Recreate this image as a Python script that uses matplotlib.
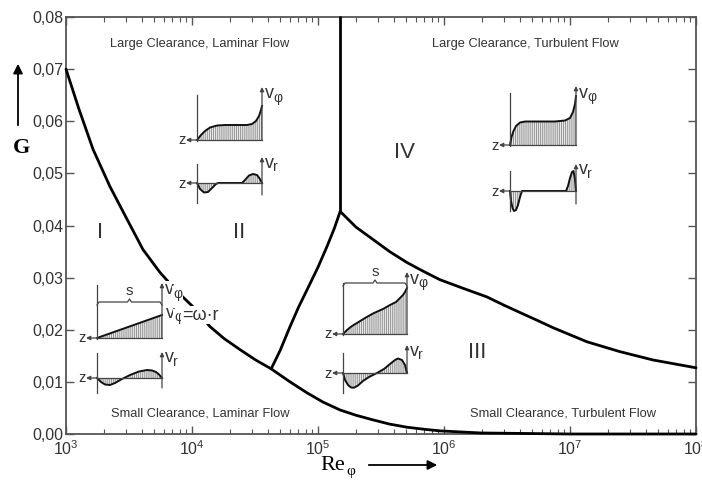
import matplotlib
matplotlib.use("Agg")
import matplotlib.pyplot as plt
from matplotlib.ticker import LogLocator, NullFormatter

plt.rcParams['font.family'] = ['Liberation Sans', 'DejaVu Sans']
plt.rcParams['mathtext.fontset'] = 'custom'
plt.rcParams['mathtext.rm'] = 'Liberation Sans'
plt.rcParams['mathtext.it'] = 'Liberation Sans:italic'
plt.rcParams['hatch.linewidth'] = 0.6

# ---------------- data ----------------
# boundary I/III (laminar -> small clearance) continuing along the small-clearance border
re_c1 = [1000, 1260, 1640, 2230, 3050, 4080, 5570, 7500, 10200, 13900, 18000, 24000,
         32000, 42500, 60000, 81800, 110000, 150000, 200000, 274000, 370000, 508000,
         700000, 929000, 1950000, 10000000, 100000000]
g_c1 = [0.0700, 0.0625, 0.0546, 0.0475, 0.0412, 0.0354, 0.0310, 0.0275, 0.0244, 0.0206,
        0.0183, 0.0162, 0.0142, 0.0125, 0.0100, 0.0079, 0.0061, 0.0046, 0.0036, 0.0027,
        0.0019, 0.0013, 0.0009, 0.0006, 0.0002, 0.0000, 0.0000]
# boundary II/III
re_c2 = [42500, 50000, 60000, 70000, 82000, 100000, 118000, 135000, 150000]
g_c2 = [0.0125, 0.0160, 0.0206, 0.0243, 0.0277, 0.0320, 0.0360, 0.0395, 0.0427]
# boundary III/IV
re_c3 = [150000, 200000, 274000, 370000, 508000, 700000, 929000, 1400000, 2190000,
         3000000, 4010000, 5500000, 7330000, 13600000, 24900000, 45600000, 100000000]
g_c3 = [0.0427, 0.0397, 0.0373, 0.0350, 0.0329, 0.0311, 0.0296, 0.0280, 0.0263,
        0.0247, 0.0233, 0.0218, 0.0204, 0.0177, 0.0158, 0.0142, 0.0127]
# boundary II/IV (vertical)
re_c4 = [150000, 150000]
g_c4 = [0.0427, 0.0800]

y_ticks = [0.00, 0.01, 0.02, 0.03, 0.04, 0.05, 0.06, 0.07, 0.08]
y_ticklabels = ['0,00', '0,01', '0,02', '0,03', '0,04', '0,05', '0,06', '0,07', '0,08']
x_ticks = [1e3, 1e4, 1e5, 1e6, 1e7, 1e8]
x_ticklabels = ['$10^{3}$', '$10^{4}$', '$10^{5}$', '$10^{6}$', '$10^{7}$', '$10^{8}$']

region_labels = ['I', 'II', 'III', 'IV']
corner_labels = ['Large Clearance, Laminar Flow', 'Large Clearance, Turbulent Flow',
                 'Small Clearance, Laminar Flow', 'Small Clearance, Turbulent Flow']

# schematic velocity profiles of the insets (offset along gap, height above wall line)
profA_phi_u = [0, 65]
profA_phi_v = [0, 23]
profA_r_u = [0, 4, 8, 13, 18, 25, 33, 42, 50, 55, 59, 62, 65]
profA_r_v = [0, -4, -6.5, -7, -5, -1, 3, 6.5, 8, 7.5, 6, 3.5, 0]
profB_phi_u = [0, 4, 8, 13, 20, 28, 40, 50, 55, 59, 62, 64, 65]
profB_phi_v = [0, 5, 9, 12.5, 14.5, 15, 15, 15, 16, 19, 24, 30, 34]
profB_r_u = [0, 3, 7, 11, 15, 19, 21, 45, 48, 52, 56, 60, 63, 65]
profB_r_v = [0, -6, -9.5, -9, -5, -1, 0, 0, 3, 7.5, 9, 8, 4, 0]
profC_phi_u = [0, 4, 9, 14, 22, 31, 40, 47, 53, 57, 60, 62, 64]
profC_phi_v = [0, 4, 8, 11, 16, 21, 25, 29, 32, 36, 39, 42, 46]
profC_r_u = [0, 2, 5, 8, 11, 15, 20, 26, 34, 41, 47, 52, 55, 59, 62, 64]
profC_r_v = [0, -7, -12, -14.5, -14.7, -12.5, -8, -4, 0, 4, 9, 13, 14.5, 13, 8, 0]
profD_phi_u = [0, 1.5, 3.5, 6, 10, 15, 30, 45, 55, 60, 63, 65, 66]
profD_phi_v = [0, 8, 14, 19, 22.5, 23.5, 23.5, 23.5, 24.5, 27, 33, 41, 49]
profD_r_u = [0, 1, 2.5, 4, 6, 8, 10, 12, 56, 58, 60, 62, 63.5, 65, 66]
profD_r_v = [0, -10, -17, -20, -19, -14, -6, 0, 0, 5, 13, 19, 20, 12, 0]

# ---------------- figure ----------------
W, H = 702, 484
fig = plt.figure(figsize=(W / 100, H / 100), dpi=100)
ax = fig.add_axes([66 / W, 50 / H, 630 / W, 417 / H])

for re, g in [(re_c1, g_c1), (re_c2, g_c2), (re_c3, g_c3), (re_c4, g_c4)]:
    ax.plot(re, g, color='black', lw=2.0, solid_capstyle='round', solid_joinstyle='round',
            zorder=3, clip_on=False)

ax.set_xscale('log')
ax.set_xlim(1e3, 1e8)
ax.set_ylim(0, 0.08)
ax.set_yticks(y_ticks)
ax.set_yticklabels(y_ticklabels)
ax.set_xticks(x_ticks)
ax.set_xticklabels(x_ticklabels)
ax.xaxis.set_minor_locator(LogLocator(base=10, subs=range(2, 10), numticks=20))
ax.xaxis.set_minor_formatter(NullFormatter())
ax.tick_params(axis='both', which='both', direction='in', top=True, right=True,
               color='#555555', labelcolor='#333333', labelsize=11.5)
ax.tick_params(which='major', length=6, width=1.0)
ax.tick_params(which='minor', length=3.5, width=0.8)
ax.tick_params(axis='y', pad=2)
ax.tick_params(axis='x', pad=4)
for s in ax.spines.values():
    s.set_color('#555555')
    s.set_linewidth(1.3)

# ---------------- overlay in pixel coordinates for annotations ----------------
ov = fig.add_axes([0, 0, 1, 1], zorder=5)
ov.set_xlim(0, W)
ov.set_ylim(H, 0)
ov.axis('off')

gray = '#444444'
txtc = '#333333'
wbox = dict(facecolor='white', edgecolor='none', pad=0.5)

# corner texts
for (cx, cy), t in zip([(200, 44), (525, 44), (200, 414), (563, 414)], corner_labels):
    ov.text(cx, cy, t, ha='center', va='center', fontsize=9.3, color=txtc)

# region numerals
for (cx, cy), t in zip([(100, 232), (239, 232), (477, 353), (404, 153)], region_labels):
    ov.text(cx, cy, t, ha='center', va='center', fontsize=16, color=txtc)

# axis titles with arrows
ov.text(21, 148, 'G', ha='center', va='center', fontsize=16, fontweight='bold',
        family='Liberation Serif', color='black')
ov.annotate('', xy=(18, 61), xytext=(18, 128),
            arrowprops=dict(arrowstyle='-|>', lw=1.3, color='black', mutation_scale=14))
ov.text(345, 466, 'Re', ha='right', va='center', fontsize=16,
        family='Liberation Serif', color='black')
ov.text(346, 472, 'φ', ha='left', va='center', fontsize=11,
        family='Liberation Serif', color='black')
ov.annotate('', xy=(440, 465), xytext=(366, 465),
            arrowprops=dict(arrowstyle='-|>', lw=1.3, color='black', mutation_scale=14))


def arrow(x1, y1, x2, y2):
    ov.annotate('', xy=(x2, y2), xytext=(x1, y1),
                arrowprops=dict(arrowstyle='-|>', lw=0.9, color=gray, mutation_scale=6,
                                shrinkA=0, shrinkB=0))


def profile(x0, base, us, vs):
    xs = [x0 + u for u in us]
    ys = [base - v for v in vs]
    ov.fill_between(xs, ys, base, facecolor='#e6e6e6', edgecolor='#8a8a8a',
                    hatch='||||||||', lw=0)
    ov.plot(xs, ys, color='#111111', lw=1.4)


def vlabel(x, y, sub, box=False):
    kw = dict(bbox=wbox) if box else {}
    t = ov.text(x, y, 'v', ha='left', va='center', fontsize=13, color=txtc, **kw)
    ov.text(x + 8, y + 4, sub, ha='left', va='center', fontsize=10, color=txtc, **kw)
    return t


def zmark(x0, base):
    arrow(x0, base, x0 - 11, base)
    ov.text(x0 - 11, base + 0.5, 'z', ha='right', va='center', fontsize=10.5, color=txtc)


def upper(x0, w, base, wall_top, arrow_top, us, vs, bracket_y=None, box=False):
    profile(x0, base, us, vs)
    ov.plot([x0, x0], [base + 1, wall_top], color=gray, lw=0.9)
    ov.plot([x0, x0 + w], [base, base], color=gray, lw=0.9)
    zmark(x0, base)
    arrow(x0 + w, base, x0 + w, arrow_top)
    vlabel(x0 + w + 3, arrow_top + 7, 'φ', box=box)
    if bracket_y is not None:
        xm = x0 + w / 2
        ov.plot([x0, x0 + 2, xm - 2, xm, xm + 2, x0 + w - 2, x0 + w],
                [bracket_y + 3, bracket_y, bracket_y, bracket_y - 3, bracket_y,
                 bracket_y, bracket_y + 3], color=gray, lw=0.9)
        ov.text(xm, bracket_y - 11, 's', ha='center', va='center', fontsize=11, color=txtc)


def lower(x0, w, base, wall_top, wall_bot, arr_bot, arr_top, us, vs):
    profile(x0, base, us, vs)
    ov.plot([x0, x0], [wall_bot, wall_top], color=gray, lw=0.9)
    ov.plot([x0, x0 + w], [base, base], color=gray, lw=0.9)
    zmark(x0, base)
    arrow(x0 + w, arr_bot, x0 + w, arr_top)
    vlabel(x0 + w + 3, arr_top + 6, 'r')


# inset I
upper(97, 65, 338, 285, 283, profA_phi_u, profA_phi_v, bracket_y=302, box=True)
vlabel(166, 313, 'φ', box=True)
ov.text(182, 315, '=ω·r', ha='left', va='center', fontsize=13, color=txtc, bbox=wbox)
lower(97, 65, 378, 353, 393, 388, 352, profA_r_u, profA_r_v)
# inset II
upper(197, 65, 140, 95, 87, profB_phi_u, profB_phi_v)
lower(197, 65, 183, 164, 203, 195, 157, profB_r_u, profB_r_v)
# inset III
upper(343, 64, 334, 283, 272, profC_phi_u, profC_phi_v, bracket_y=283)
lower(343, 64, 373, 353, 393, 373, 345, profC_r_u, profC_r_v)
# inset IV
upper(510, 66, 145, 93, 86, profD_phi_u, profD_phi_v)
lower(510, 66, 191, 171, 211, 204, 164, profD_r_u, profD_r_v)

fig.savefig('out.png', dpi=100)
